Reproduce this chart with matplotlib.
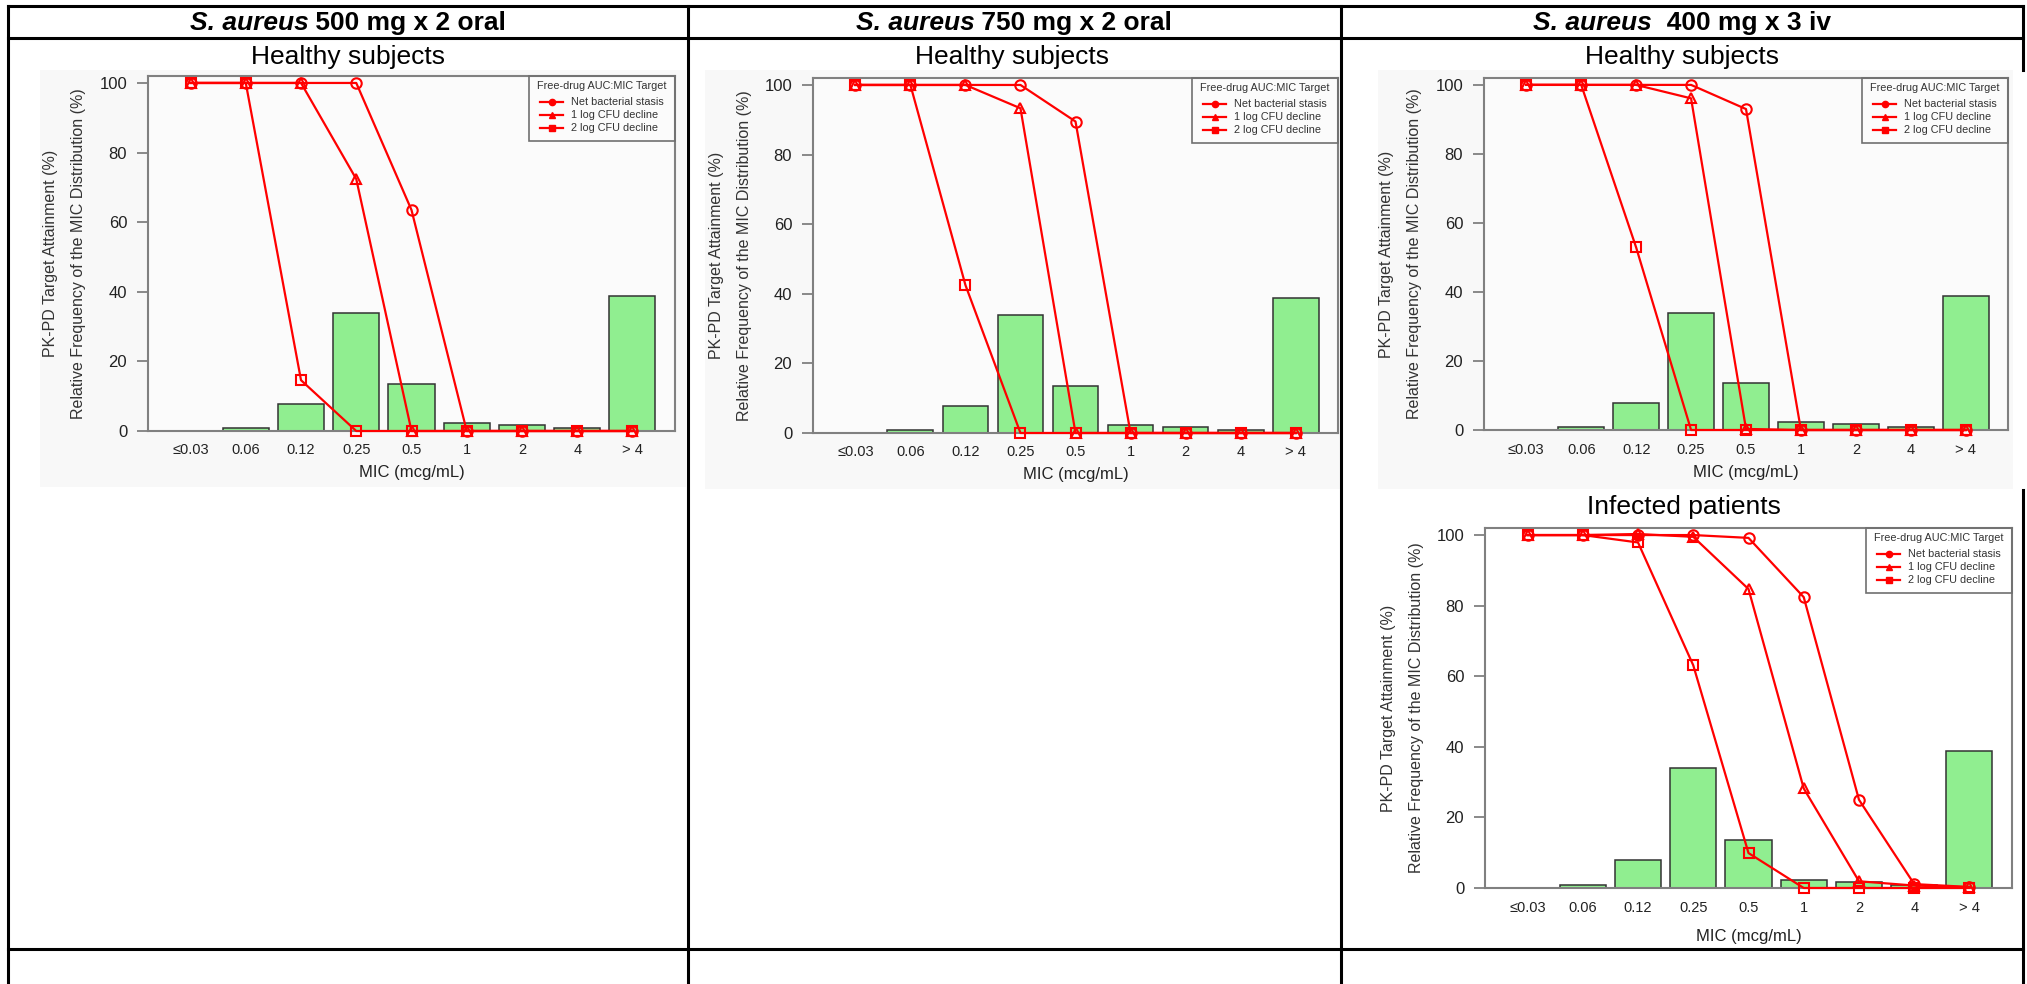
import numpy as np
import matplotlib
matplotlib.use('Agg')
import matplotlib.pyplot as plt
from matplotlib.patches import Rectangle
from matplotlib.lines import Line2D

plt.rcParams['font.family'] = ['Liberation Sans', 'DejaVu Sans']

# data
mic_labels = ['≤0.03', '0.06', '0.12', '0.25', '0.5', '1', '2', '4', '> 4']
mic_freq = [0, 0.8, 7.9, 33.9, 13.5, 2.2, 1.8, 0.9, 38.7]

p1_stasis = [100, 100, 100, 100, 63.5, 0, 0, 0, 0]
p1_1log = [100, 100, 100, 72.4, 0, 0, 0, 0, 0]
p1_2log = [100, 100, 14.6, 0, 0, 0, 0, 0, 0]

p2_stasis = [100, 100, 100, 100, 89.5, 0, 0, 0, 0]
p2_1log = [100, 100, 100, 93.3, 0, 0, 0, 0, 0]
p2_2log = [100, 100, 42.5, 0, 0, 0, 0, 0, 0]

p3_stasis = [100, 100, 100, 100, 93.0, 0, 0, 0, 0]
p3_1log = [100, 100, 100, 96.1, 0.3, 0, 0, 0, 0]
p3_2log = [100, 100, 52.9, 0, 0, 0, 0, 0, 0]

p4_stasis = [100, 100, 100, 100, 99.2, 82.4, 25.0, 1.1, 0.3]
p4_1log = [100, 100, 100.3, 99.5, 84.7, 28.2, 1.9, 0.7, 0.2]
p4_2log = [100, 100, 97.9, 63.1, 9.9, 0, 0, 0, 0]

headers = [('S. aureus', ' 500 mg x 2 oral'),
           ('S. aureus', ' 750 mg x 2 oral'),
           ('S. aureus', '  400 mg x 3 iv')]
series_names = ['Net bacterial stasis', '1 log CFU decline', '2 log CFU decline']

W, H = 2027, 984
fig = plt.figure(figsize=(W / 100, H / 100), dpi=100)
fig.patch.set_facecolor('white')


def fx(x):
    return x / W


def fy(y):
    return 1 - y / H


def hline(y, x0, x1):
    fig.add_artist(Line2D([fx(x0), fx(x1)], [fy(y), fy(y)], color='black', lw=2.2,
                          solid_capstyle='projecting', zorder=10))


def vline(x, y0, y1):
    fig.add_artist(Line2D([fx(x), fx(x)], [fy(y0), fy(y1)], color='black', lw=2.2,
                          solid_capstyle='projecting', zorder=10))


def bg_rect(x0, y0, x1, y1):
    fig.add_artist(Rectangle((fx(x0), fy(y1)), (x1 - x0) / W, (y1 - y0) / H,
                             facecolor='#f8f8f8', edgecolor='none', zorder=-5))


# table grid
hline(6, 8, 2023)
hline(38, 8, 2023)
hline(949, 8, 2023)
vline(8, 6, 984)
vline(688, 6, 984)
vline(1341, 6, 984)
vline(2023, 6, 70)
vline(2023, 490, 984)

# header row
renderer = fig.canvas.get_renderer()
col_centers = [348, 1014, 1682]
for (ital, rest), cx in zip(headers, col_centers):
    t1 = fig.text(0, fy(23), ital, fontsize=19, fontweight='bold', fontstyle='italic',
                  va='center', ha='left')
    t2 = fig.text(0, fy(23), rest, fontsize=19, fontweight='bold', va='center', ha='left')
    w1 = t1.get_window_extent(renderer).width
    w2 = t2.get_window_extent(renderer).width
    x0 = cx - (w1 + w2) / 2
    t1.set_x(fx(x0))
    t2.set_x(fx(x0 + w1))

# light grey image backgrounds of the healthy-subject plots
bg_rect(40, 70, 686, 487)
bg_rect(705, 70, 1341, 489)
bg_rect(1378, 70, 2013, 489)

panels = [
    dict(box=(148, 675, 76, 431), title='Healthy subjects', ty=57, tx=348,
         data=(p1_stasis, p1_1log, p1_2log), face='#fbfbfb', xl=42),
    dict(box=(813, 1338, 78, 433), title='Healthy subjects', ty=57, tx=1012,
         data=(p2_stasis, p2_1log, p2_2log), face='#fbfbfb', xl=42),
    dict(box=(1484, 2008, 78, 430), title='Healthy subjects', ty=57, tx=1682,
         data=(p3_stasis, p3_1log, p3_2log), face='#fbfbfb', xl=42),
    dict(box=(1485, 2012, 528, 888), title='Infected patients', ty=507, tx=1684,
         data=(p4_stasis, p4_1log, p4_2log), face='white', xl=48),
]

markers = ['o', '^', 's']
legend_markers = ['o', '^', 's']
x = np.arange(len(mic_labels))

for p in panels:
    l, r, t, b = p['box']
    ax = fig.add_axes([fx(l), fy(b), (r - l) / W, (b - t) / H])
    ax.set_facecolor(p['face'])
    ax.bar(x, mic_freq, width=1 / 1.2, color='#90ee90', edgecolor='#333333', linewidth=1.1, zorder=2)
    for vals, m in zip(p['data'], markers):
        ax.plot(x, vals, color='#ff0000', lw=1.6, marker=m, markersize=7.5,
                markerfacecolor='none', markeredgewidth=1.5, zorder=3, clip_on=False)
    ax.set_xlim(-0.77, 8.77)
    ax.set_ylim(0, 102)
    ax.set_yticks([0, 20, 40, 60, 80, 100])
    ax.set_xticks(x)
    ax.set_xticklabels(mic_labels)
    ax.tick_params(axis='y', length=8, width=1.3, color='#808080', pad=7,
                   labelsize=12, labelcolor='#222222')
    ax.tick_params(axis='x', length=0, pad=9, labelsize=10.5, labelcolor='#222222')
    for s in ax.spines.values():
        s.set_color('#808080')
        s.set_linewidth(1.5)

    # subtitle
    fig.text(fx(p['tx']), fy(p['ty']), p['title'], fontsize=19, ha='center', va='center')
    # axis titles
    cy = (t + b) / 2
    fig.text(fx(l - 97), fy(cy), 'PK-PD Target Attainment (%)', rotation=90, fontsize=11.5,
             ha='center', va='center', color='#333333')
    fig.text(fx(l - 69), fy(cy), 'Relative Frequency of the MIC Distribution (%)', rotation=90,
             fontsize=11.5, ha='center', va='center', color='#333333')
    fig.text(fx((l + r) / 2), fy(b + p['xl']), 'MIC (mcg/mL)', fontsize=12, ha='center',
             va='center', color='#222222')

    # legend box drawn by hand
    lx0 = r - 146
    fig.add_artist(Rectangle((fx(lx0), fy(t + 65)), 146 / W, 65 / H, facecolor='none',
                             edgecolor='#707070', lw=1.2, zorder=6))
    fig.text(fx(lx0 + 73), fy(t + 10), 'Free-drug AUC:MIC Target', fontsize=7.8,
             ha='center', va='center', color='#333333')
    for k, (name, m) in enumerate(zip(series_names, legend_markers)):
        yy = t + 26 + 13 * k
        fig.add_artist(Line2D([fx(lx0 + 11), fx(lx0 + 34)], [fy(yy), fy(yy)], color='#ff0000',
                              lw=1.6, zorder=6))
        fig.add_artist(Line2D([fx(lx0 + 22.5)], [fy(yy)], color='#ff0000', marker=m,
                              markersize=4.5, linestyle='none', zorder=6))
        fig.text(fx(lx0 + 42), fy(yy), name, fontsize=7.8, ha='left', va='center', color='#333333')

fig.savefig('out.png', dpi=100)
